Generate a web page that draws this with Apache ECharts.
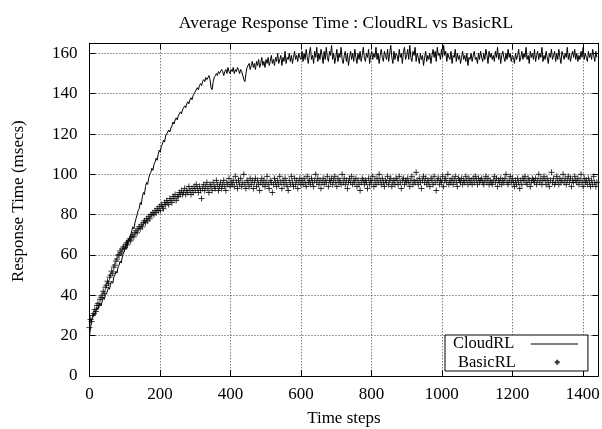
<!DOCTYPE html>
<html><head><meta charset="utf-8">
<script src="https://cdn.jsdelivr.net/npm/echarts@6/dist/echarts.min.js"></script>
<style>html,body{margin:0;padding:0;background:#fff}#c{width:602px;height:429px}</style>
</head><body><div id="c"></div>
<script>
const TITLE = 'Average Response Time : CloudRL vs BasicRL';
const X_NAME = 'Time steps';
const Y_NAME = 'Response Time (msecs)';
const SERIES_NAMES = ['CloudRL', 'BasicRL'];
const TIME_STEP = 3; // samples every 3 time steps, starting at 0
const cloudRL = [
20,24,28,29,31,30,32,34,33,35,36,35,37,39,38,40,
41,42,44,43,46,47,46,49,50,52,51,54,55,57,56,59,
61,62,64,63,67,68,67,70,72,74,73,76,78,80,
82,83,86,85,89,91,90,94,96,95,98,100,
101,103,102,105,106,108,107,110,112,111,114,115,117,116,119,120,
121,122,121,123,124,126,125,127,128,127,129,130,131,130,132,133,134,133,135,136,135,137,138,137,139,140,141,
141,143,142,144,145,144,146,147,146,148,147,148,149,147,143,142,146,148,149,150,149,151,150,
150,152,151,149,151,152,150,153,151,150,152,151,153,150,152,151,153,152,150,152,151,149,147,146,150,153,
153,155,152,154,156,153,155,152,156,154,157,153,155,158,154,156,153,157,155,158,
154,156,159,155,157,154,158,156,160,155,157,159,154,158,156,161,155,158,157,160,
156,159,155,158,161,157,159,156,160,158,157,
161,156,160,157,162,158,155,160,163,157, 159,155,161,158,163,156,160,157,162,159,
155,161,157,163,158,156,161,159,164,157, 160,155,158,162,156,160,158,163,157,155,
159,161,156,160,154,158,161,157,160,156, 162,158,155,160,157,161,156,159,163,158,
156,160,158,162,155,159,161,157,160,158, 163,157,160,155,159,162,158,156,161,159,
157,162,156,160,164,158,155,161,157,160, 159,156,162,158,160,155,161,163,157,159,
162,157,164,158,156,161,159,163,156,160, 158,155,160,157,159,154,158,161,156,159,
157,160,155,159,162,158,161,156,163,159, 160,157,162,158,164,159,161,156,160,158,
157,161,155,159,158,162,156,160,157,159, 155,158,161,157,159,156,160,154,158,157,
160,156,159,161,157,158,155,160,157,161, 158,156,160,157,162,159,155,161,158,160,
157,159,156,161,158,163,157,160,155,159, 161,158,156,160,157,162,158,160,156,159,
158,155,160,157,159,162,156,158,161,157, 160,158,163,157,159,155,161,158,160,157,
162,156,159,161,157,160,158,163,156,159, 157,161,158,155,160,158,162,157,159,161,
156,160,157,162,158,155,161,159,157,160, 158,163,157,160,156,159,161,158,162,157,
160,156,159,157,161,158,163,157,160,158, 156,161,158,160,157,162,159,156,161,158
];
const basicRL = [
24,28,27,30,31,33,32,35,36,35,38,39,
40,42,41,44,45,47,46,49,50,52,51,54,55,57,58,60,
60,62,61,63,64,63,65,66,65,67,68,67,69,70,69,71,72,71,73,74,73,75,74,76,77,76,78,77,79,78,80,80,
81,80,82,81,83,82,84,82,85,84,83,86,85,87,86,85,88,87,86,89,88,90,87,89,
89,91,90,92,90,91,93,90,92,91,94,92,90,93,91,94,92,95,93,91,94,92,88,93,95,92,94,96,93,91,
95,94,92,96,94,93,97,95,92,94,96,93,95,97,94,92,96,95,98,94,96,
95,97,94,99,96,93,97,95,98,94,96,100,95,93,97,96,94,98,95,97,93,96,98,94,97,95,92,96,98,95,
97,94,96,99,95,93,97,96,91,95,98,96,94,97,95,99,96,93,97,95,98,96,94,92,97,95,99,96,94,98,
95,97,93,96,98,95,
97,95,98,96,94,99,96,97,95,98, 96,94,97,100,96,98,95,97,93,96,
98,95,97,96,99,94,97,96,98,95, 97,99,96,94,98,96,97,95,100,96,
98,95,97,93,96,98,96,99,95,97, 96,98,94,97,95,92,96,98,97,95,
97,96,93,98,95,97,96,99,94,97, 95,98,96,100,97,95,98,96,94,97,
96,99,95,97,98,94,96,97,95,98, 97,95,99,96,93,97,98,95,97,96,
98,96,94,97,99,95,97,96,101,97, 95,98,96,93,97,99,96,98,95,97,
96,94,98,97,95,99,96,92,97,98, 95,97,96,99,94,97,98,96,100,95,
97,96,98,95,97,99,96,94,98,97, 96,98,95,97,96,99,97,95,98,96,
97,95,98,96,99,97,95,98,96,97, 98,96,95,97,99,96,98,95,97,96,
95,97,99,96,98,94,97,96,98,95, 97,96,98,100,96,95,97,99,96,98,
96,94,97,95,98,96,93,97,95,98, 97,99,96,95,98,97,94,96,98,97,
96,98,95,97,100,96,98,95,97,99, 97,95,98,96,94,97,101,96,98,95,
96,99,97,95,98,96,97,100,96,98, 95,97,99,96,98,94,97,96,99,97,
96,98,95,97,100,96,94,98,96,97, 95,98,96,94,97,95,99,96,94,96
];
const X_TICKS = {min: 0, max: 1444, interval: 200};
const Y_TICKS = {min: 0, max: 165, interval: 20};

const toPairs = arr => arr.map((v, i) => [i * TIME_STEP, v]);
const FONT = 'Liberation Serif';
const chart = echarts.init(document.getElementById('c'), null, {renderer: 'canvas'});
const grid = {left: 89.5, top: 43.3, right: 3.7, bottom: 53, outerBoundsMode: 'none', containLabel: false};
const splitStyle = {show: true, lineStyle: {color: '#444', width: 1, type: [1, 2]}};
const labelStyle = {color: '#000', fontFamily: FONT, fontSize: 17, formatter: v => String(v)};
const plusPath = 'path://M0,5L10,5M5,0L5,10';
const axisLine = {show: true, onZero: false, lineStyle: {color: '#000', width: 1}};
const axisTick = {show: true, inside: true, length: 6, lineStyle: {color: '#000'}};
chart.setOption({
  animation: false,
  backgroundColor: '#fff',
  title: {text: TITLE, left: 341, top: 9, textAlign: 'center',
    textStyle: {fontFamily: FONT, fontSize: 17.5, fontWeight: 'normal', color: '#000'}},
  grid: grid,
  xAxis: [
    {type: 'value', min: X_TICKS.min, max: X_TICKS.max, interval: X_TICKS.interval,
     name: X_NAME, nameLocation: 'middle', nameGap: 34,
     nameTextStyle: {fontFamily: FONT, fontSize: 17, color: '#000'},
     axisLine: axisLine, axisTick: axisTick,
     axisLabel: Object.assign({margin: 10, showMaxLabel: false}, labelStyle),
     splitLine: splitStyle},
    {type: 'value', position: 'top', min: X_TICKS.min, max: X_TICKS.max, interval: X_TICKS.interval,
     axisLine: axisLine, axisTick: axisTick, axisLabel: {show: false}, splitLine: {show: false}}
  ],
  yAxis: [
    {type: 'value', min: Y_TICKS.min, max: Y_TICKS.max, interval: Y_TICKS.interval,
     name: Y_NAME, nameLocation: 'middle', nameGap: 62,
     nameTextStyle: {fontFamily: FONT, fontSize: 17, color: '#000', padding: [0, 0, 0, 17]},
     axisLine: axisLine, axisTick: axisTick,
     axisLabel: Object.assign({margin: 12, showMaxLabel: false}, labelStyle),
     splitLine: splitStyle},
    {type: 'value', position: 'right', min: Y_TICKS.min, max: Y_TICKS.max, interval: Y_TICKS.interval,
     axisLine: axisLine, axisTick: axisTick, axisLabel: {show: false}, splitLine: {show: false}}
  ],
  legend: [
    {data: [{name: SERIES_NAMES[0], icon: 'rect'}], left: 445, top: 335, orient: 'vertical', align: 'right',
     padding: [0, 10, 18, 8], itemWidth: 47, itemHeight: 1,
     borderColor: '#000', borderWidth: 1, backgroundColor: '#fff', z: 10,
     selectedMode: false,
     textStyle: {fontFamily: FONT, fontSize: 16.5, color: '#000', lineHeight: 18, padding: [0, 11.5, 0, 0]}},
    {data: [{name: SERIES_NAMES[1], icon: plusPath}], left: 458, top: 353.3, orient: 'vertical', align: 'right',
     padding: 0, itemWidth: 5, itemHeight: 5, z: 11, selectedMode: false,
     textStyle: {fontFamily: FONT, fontSize: 16.5, color: '#000', lineHeight: 18, padding: [0, 34, 0, 0]}}
  ],
  series: [
    {name: SERIES_NAMES[0], type: 'line', data: toPairs(cloudRL), showSymbol: false, symbol: 'none',
     lineStyle: {color: '#000', width: 1}, itemStyle: {color: '#000'}, z: 3},
    {name: SERIES_NAMES[1], type: 'scatter', data: toPairs(basicRL), symbol: plusPath, symbolSize: 6,
     itemStyle: {color: 'rgba(0,0,0,0)', borderColor: '#000', borderWidth: 1}, z: 2}
  ]
});
</script></body></html>
